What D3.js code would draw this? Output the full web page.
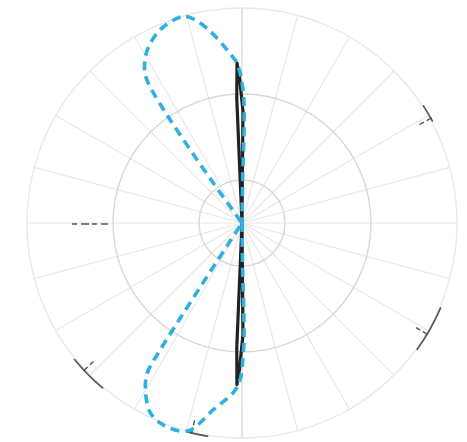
<!DOCTYPE html>
<html>
<head>
<meta charset="utf-8">
<script src="https://cdn.jsdelivr.net/npm/d3@7"></script>
<style>
  html, body { margin: 0; padding: 0; background: #fff; }
  svg { display: block; }
</style>
</head>
<body>
<div id="chart"></div>
<script>
// radial ticks (dB) and spoke angles (deg, clockwise from top)
const rDomain = [-25, 0];
const rTicks = [-20, -10, 0];
const spokeAngles = d3.range(0, 360, 15);

// series 1: black solid (narrow lobes)
const blackAngles = [-180.8, -180.5, -179, -178.2, -177.6, -177, -3, -2.4, -1.8, -1, 0.5, 1];
const blackValues = [-25, -12, -8, -6.2, -10.5, -25, -25, -10.5, -6.4, -8, -12, -25];

// series 2: blue dashed (wide lobes, left side)
const blueAngles = [-180.8, -180.7, -180.6, -178.3, -171.2, -165.3, -158.8, -154.2, -149.9, -147.7, -147.2, -145.3,
                    -34, -33.6, -31.1, -28.2, -23, -16.8, -14.7, -10.2, -3.1, -1.8, 0.6, 0.8, 1];
const blueValues  = [-25, -20.3, -9.9, -5.9, -3.0, 0, 0.2, -0.5, -2.6, -4.4, -7.4, -25,
                    -25, -5.0, -3.1, -1.9, -0.6, 0, -0.2, -2.0, -5.7, -6.4, -9.9, -20.3, -25];

// leftover axis marks on the rim
const rimMarks = [[57, 62], [113, 126], [220, 231], [189, 195]];

const W = 467, H = 442;
const cx = 242, cy = 223, R = 215;

const svg = d3.select('#chart').append('svg')
    .attr('width', W).attr('height', H);

const g = svg.append('g').attr('transform', `translate(${cx},${cy})`);

const r = d3.scaleLinear().domain(rDomain).range([0, R]);
const rad = d => d * Math.PI / 180;

//++++++++++++ grid ++++++++++++\\
g.selectAll('.spoke').data(spokeAngles).enter()
  .append('line')
    .attr('class', 'spoke')
    .attr('x1', 0).attr('y1', 0)
    .attr('x2', d => R * Math.sin(rad(d)))
    .attr('y2', d => -R * Math.cos(rad(d)))
    .attr('stroke', d => (d % 180 == 0) ? '#d6d6d6' : '#e8e8e8')
    .attr('stroke-width', 1.2);

g.selectAll('.ring').data(rTicks).enter()
  .append('circle')
    .attr('class', 'ring')
    .attr('r', d => r(d))
    .attr('fill', 'none')
    .attr('stroke', d => d == 0 ? '#e9e9e9' : '#d8d8d8')
    .attr('stroke-width', 1.4);

//++++++++++++ rim marks ++++++++++++\\
rimMarks.forEach(m => {
  const a0 = rad(m[0]), a1 = rad(m[1]);
  const rr = R + 1;
  const p0 = [rr * Math.sin(a0), -rr * Math.cos(a0)];
  g.append('path')
    .attr('d', `M${p0[0]},${p0[1]} A${rr},${rr} 0 0 1 ${rr * Math.sin(a1)},${-rr * Math.cos(a1)}`)
    .attr('fill', 'none').attr('stroke', '#555').attr('stroke-width', 1.6);
  const am = (a0 + a1) / 2 + rad(1.5);
  g.append('line')
    .attr('x1', (R + 2) * Math.sin(am)).attr('y1', -(R + 2) * Math.cos(am))
    .attr('x2', (R - 12) * Math.sin(am)).attr('y2', -(R - 12) * Math.cos(am))
    .attr('stroke', '#555').attr('stroke-width', 1.4)
    .attr('stroke-dasharray', '6,3');
});
g.append('line')
  .attr('x1', -170).attr('y1', 1).attr('x2', -134).attr('y2', 1)
  .attr('stroke', '#555').attr('stroke-width', 1.4)
  .attr('stroke-dasharray', '5,4,8,3');

//++++++++++++ series ++++++++++++\\
const blackData = blackAngles.map((a, i) => [rad(a), r(blackValues[i])]);
const blueData = blueAngles.map((a, i) => [rad(a), r(blueValues[i])]);

const lineLin = d3.lineRadial().curve(d3.curveLinear);
const lineSmooth = d3.lineRadial().curve(d3.curveCatmullRom.alpha(0.5));

g.append('path')
  .attr('d', lineLin(blackData))
  .attr('fill', 'none')
  .attr('stroke', '#222')
  .attr('stroke-width', 3.2)
  .attr('stroke-linejoin', 'round');

g.append('path')
  .attr('d', lineSmooth(blueData))
  .attr('fill', 'none')
  .attr('stroke', '#2fb0e0')
  .attr('stroke-width', 3.6)
  .attr('stroke-dasharray', '9,6')
  .attr('stroke-linejoin', 'round');
</script>
</body>
</html>
